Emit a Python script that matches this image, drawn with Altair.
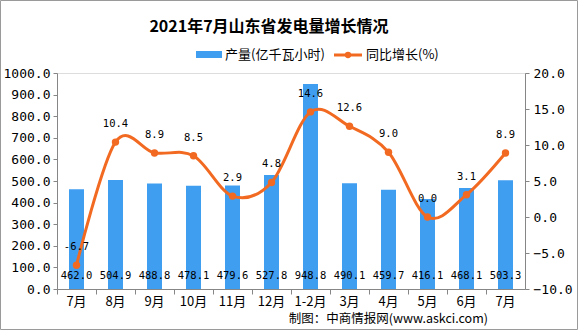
import altair as alt
import pandas as pd

months = ["7月", "8月", "9月", "10月", "11月", "12月", "1-2月", "3月", "4月", "5月", "6月", "7月"]
output = [462.0, 504.9, 488.8, 478.1, 479.6, 527.8, 948.8, 490.1, 459.7, 416.1, 468.1, 503.3]
growth = [-6.7, 10.4, 8.9, 8.5, 2.9, 4.8, 14.6, 12.6, 9.0, 0.0, 3.1, 8.9]

title_text = "2021年7月山东省发电量增长情况"
legend_bar = "产量(亿千瓦小时)"
legend_line = "同比增长(%)"
source_text = "制图：中商情报网(www.askci.com)"

BLUE = "#409EF0"
ORANGE = "#F26A21"
AXIS = "#868686"
MONO = "DejaVu Sans Mono"
CJK = "Noto Sans CJK SC"

df = pd.DataFrame({
    "idx": list(range(len(months))),
    "month": months,
    "output": output,
    "growth": growth,
})
df["out_lbl"] = [f"{v:.1f}" for v in output]
df["gr_lbl"] = [f"{v:.1f}" for v in growth]
df["lbl_pos"] = 60

label_expr = "[" + ",".join("'" + m + "'" for m in months) + "][datum.value]"

x_axis = alt.Axis(
    title=None, labelExpr=label_expr, labelAngle=0, labelFont=CJK,
    labelFontSize=13, labelColor="#000000", domainColor=AXIS, tickColor=AXIS,
    tickSize=5, bandPosition=0, labelPadding=1, labelOverlap=False,
)
x_scale = alt.Scale(paddingInner=0, paddingOuter=0)
x_enc = alt.X("idx:O", scale=x_scale, axis=x_axis)

y1_axis = alt.Axis(
    title=None, values=list(range(0, 1001, 100)), format=".1f",
    labelFont=MONO, labelFontSize=13, labelColor="#000000",
    domainColor=AXIS, tickColor=AXIS, tickSize=4, grid=False, labelPadding=3,
    labelOverlap=False,
)
y1_scale = alt.Scale(domain=[0, 1000])

y2_axis = alt.Axis(
    title=None, orient="right", values=list(range(-10, 21, 5)), format=".1f",
    labelFont=MONO, labelFontSize=13, labelColor="#000000",
    domainColor=AXIS, tickColor=AXIS, tickSize=4, grid=False, labelPadding=4,
    labelOverlap=False,
)
y2_scale = alt.Scale(domain=[-10, 20])

base = alt.Chart(df)

bars = base.mark_bar(color=BLUE, size=15).encode(
    x=x_enc,
    y=alt.Y("output:Q", scale=y1_scale, axis=y1_axis),
)

bar_labels = base.mark_text(font=MONO, fontSize=10.5, color="#000000", baseline="middle").encode(
    x=x_enc,
    y=alt.Y("lbl_pos:Q", scale=y1_scale, axis=y1_axis),
    text="out_lbl:N",
)

left = alt.layer(bars, bar_labels)

y2 = alt.Y("growth:Q", scale=y2_scale, axis=y2_axis)

line = base.mark_line(color=ORANGE, strokeWidth=3, interpolate="cardinal").encode(x=x_enc, y=y2)
points = base.mark_point(color=ORANGE, filled=True, opacity=1, size=55).encode(x=x_enc, y=y2)
line_labels = base.mark_text(font=MONO, fontSize=10.5, color="#000000", baseline="middle", dy=-18).encode(
    x=x_enc, y=y2, text="gr_lbl:N"
)
right = alt.layer(line, points, line_labels)

main = alt.layer(left, right).resolve_scale(y="independent")

# decorations (title, legend, source, border); plot origin at (57, 73)
OX, OY = 57, 73
deco_df = pd.DataFrame({"t": [title_text]})
title = alt.Chart(deco_df).mark_text(
    font=CJK, fontSize=16, fontWeight="bold", color="#000000", baseline="middle", align="center"
).encode(x=alt.value(269 - OX), y=alt.value(27 - OY), text=alt.value(title_text))

leg_rect = alt.Chart(deco_df).mark_rect(color=BLUE).encode(
    x=alt.value(196 - OX), x2=alt.value(222 - OX), y=alt.value(51 - OY), y2=alt.value(58 - OY)
)
leg_t1 = alt.Chart(deco_df).mark_text(
    font=CJK, fontSize=13, color="#000000", align="left", baseline="middle"
).encode(x=alt.value(225 - OX), y=alt.value(54.5 - OY), text=alt.value(legend_bar))
leg_line = alt.Chart(deco_df).mark_rule(color=ORANGE, strokeWidth=3).encode(
    x=alt.value(334 - OX), x2=alt.value(362 - OX), y=alt.value(55 - OY)
)
leg_pt = alt.Chart(deco_df).mark_point(color=ORANGE, filled=True, opacity=1, size=40).encode(
    x=alt.value(348 - OX), y=alt.value(55 - OY)
)
leg_t2 = alt.Chart(deco_df).mark_text(
    font=CJK, fontSize=13, color="#000000", align="left", baseline="middle"
).encode(x=alt.value(366 - OX), y=alt.value(54.5 - OY), text=alt.value(legend_line))

source = alt.Chart(deco_df).mark_text(
    font=CJK, fontSize=12.5, color="#000000", align="right", baseline="middle"
).encode(x=alt.value(488 - OX), y=alt.value(319 - OY), text=alt.value(source_text))

border = alt.Chart(deco_df).mark_rect(fill=None, stroke="#9A9A9A", strokeWidth=1).encode(
    x=alt.value(0.5 - OX), x2=alt.value(577.5 - OX), y=alt.value(0.5 - OY), y2=alt.value(329.5 - OY)
)

chart = alt.layer(
    main, title, leg_rect, leg_t1, leg_line, leg_pt, leg_t2, source, border
).properties(
    width=468, height=216,
    autosize=alt.AutoSizeParams(type="none"),
    padding={"left": OX, "top": OY, "right": 578 - OX - 468, "bottom": 330 - OY - 216},
).configure_view(stroke=None).configure(background="white")

chart.save("out.html", embed_options={"renderer": "svg", "actions": False})
